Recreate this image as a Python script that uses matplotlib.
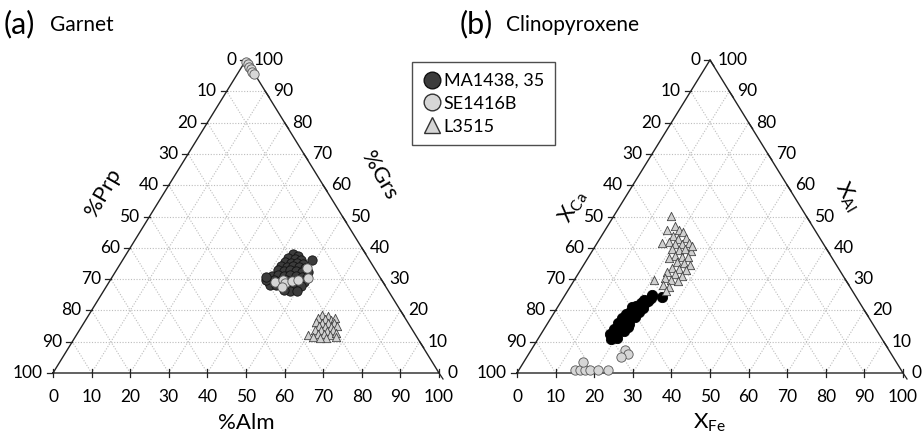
import matplotlib
matplotlib.use("Agg")
import matplotlib.pyplot as plt
from matplotlib.lines import Line2D
import numpy as np

plt.rcParams["font.family"] = ["Lato", "DejaVu Sans"]
plt.rcParams["mathtext.default"] = "regular"

# garnet compositions (%), Prp = 100 - Alm - Grs
grt_ma_alm = [43.2, 44.8, 42.5, 44.5, 46.1, 49.0, 42.3, 44.1, 45.6, 47.4, 42.0, 43.6, 45.1, 46.7,
              48.5, 41.8, 43.5, 44.9, 46.7, 48.3, 49.9, 41.2, 42.6, 44.3, 45.7, 47.5, 49.1, 50.6,
              41.0, 42.4, 44.1, 45.5, 47.2, 48.9, 50.4, 42.1, 43.7, 45.7, 47.2, 48.9, 50.3, 48.3,
              50.1, 46.5, 40.2, 39.8]
grt_ma_grs = [38.0, 37.4, 36.7, 36.4, 36.1, 36.1, 35.5, 35.1, 35.1, 34.8, 34.2, 33.9, 34.2, 33.9,
              33.5, 32.9, 32.6, 32.9, 32.6, 32.3, 32.3, 31.0, 31.3, 31.0, 31.3, 31.0, 30.7, 30.4,
              29.4, 29.7, 29.4, 29.7, 29.4, 29.1, 29.1, 28.1, 28.1, 27.8, 27.8, 27.5, 27.8, 26.2,
              26.2, 26.5, 29.8, 30.6]
grt_se_alm = [42.9, 44.7, 45.7, 47.2, 48.6, 49.0, 50.9, 45.5, 0.3, 1.0, 1.8, 2.6, 3.5, 4.4]
grt_se_grs = [29.1, 29.7, 28.8, 29.4, 29.7, 33.5, 30.4, 27.5, 99.4, 98.8, 97.9, 97.2, 96.3, 95.4]
grt_l_alm = [60.4, 62.1, 59.9, 61.8, 63.6, 64.3, 60.0, 61.7, 63.2, 64.8, 61.4, 63.1, 64.7, 66.1,
             61.0, 62.6, 64.3, 65.7, 62.4, 64.0, 65.7, 66.9, 60.0, 61.6, 65.1, 67.6, 63.6]
grt_l_grs = [18.5, 18.2, 17.6, 17.3, 16.9, 17.6, 16.3, 16.0, 16.0, 16.0, 15.0, 14.7, 14.7, 15.0,
             13.7, 13.7, 13.4, 13.7, 12.5, 12.5, 12.1, 12.8, 12.1, 11.5, 11.2, 11.5, 11.2]

# clinopyroxene compositions (%), XCa = 100 - XFe - XAl
cpx_ma_fe = [18.8, 19.1, 19.4, 18.7, 19.7, 18.8, 20.0, 19.0, 20.1, 19.2, 20.4, 19.5, 20.5, 19.6,
             20.8, 20.0, 21.1, 20.2, 21.4, 20.8, 22.0, 21.3, 22.5, 22.8, 25.4, 20.4, 20.9, 21.2,
             17.8, 18.0, 18.2, 18.5, 18.8, 19.2, 21.6, 21.9, 22.3, 21.5, 22.6]
cpx_ma_al = [10.9, 11.8, 12.8, 13.7, 13.7, 15.0, 14.7, 16.3, 16.0, 17.3, 16.9, 18.2, 18.2, 19.5,
             19.2, 20.4, 20.1, 21.4, 21.1, 22.4, 22.0, 23.3, 23.0, 24.0, 24.3, 11.2, 13.4, 15.7,
             12.4, 14.2, 15.9, 17.6, 19.0, 21.2, 17.8, 19.4, 20.8, 14.6, 24.8]
cpx_se_fe = [14.4, 15.7, 17.0, 18.3, 20.4, 23.0, 15.3, 24.2, 25.6, 24.5]
cpx_se_al = [1.0, 1.0, 1.0, 1.0, 1.0, 1.0, 3.5, 7.3, 6.1, 5.1]
cpx_l_fe = [14.8, 17.5, 16.1, 19.2, 20.5, 18.6, 20.4, 22.3, 18.5, 20.4, 22.2, 23.9, 16.9, 20.4,
            22.4, 23.8, 25.6, 25.1, 22.3, 24.2, 25.8, 21.0, 23.8, 25.7, 27.6, 23.4, 25.4, 27.4,
            22.8, 25.2, 27.3, 23.2, 25.0, 27.1, 20.7, 23.9, 25.7, 25.6]
cpx_l_al = [50.2, 47.0, 45.7, 45.7, 45.0, 43.8, 42.8, 43.1, 41.9, 41.2, 41.2, 41.5, 41.5, 39.6,
            39.3, 39.6, 39.0, 40.6, 37.4, 37.1, 37.1, 36.7, 35.5, 35.1, 34.5, 33.5, 33.2, 32.9,
            32.3, 31.6, 31.0, 30.4, 29.7, 29.4, 29.7, 28.1, 27.5, 26.2]

tick_vals = list(range(0, 101, 10))
legend_labels = ["MA1438, 35", "SE1416B", "L3515"]


def to_xy(bottom, top):
    b = np.asarray(bottom) / 100.0
    t = np.asarray(top) / 100.0
    return b + t / 2.0, t


def draw_frame(ax, left_label, right_label, bottom_label, lpos, rpos, bpos):
    ax.set_xlim(0, 1)
    ax.set_ylim(0, 1)
    ax.axis("off")
    grid_kw = dict(color="#bdbdbd", ls=(0, (1, 1.5)), lw=0.8, zorder=1)
    for v in tick_vals[1:-1]:
        f = v / 100.0
        ax.plot([f / 2, 1 - f / 2], [f, f], **grid_kw)
        ax.plot([f, f / 2 + 0.5], [0, 1 - f], **grid_kw)
        ax.plot([f, f / 2], [0, f], **grid_kw)
    ax.plot([0, 1, 0.5, 0], [0, 0, 1, 0], color="#222222", lw=1.0, zorder=2, clip_on=False)

    px = 1.0 / 386
    py = 1.0 / 313
    for v in tick_vals:
        f = v / 100.0
        # bottom
        ax.plot([f, f], [-4 * py, 4 * py], color="#222222", lw=0.9, clip_on=False, zorder=2)
        ax.text(f, -24 * py, str(v), ha="center", va="center", fontsize=12.5)
        # left (0 at top, 100 at bottom-left)
        h = 1 - f
        x = h / 2
        ax.plot([x - 6 * px, x], [h, h], color="#222222", lw=0.9, clip_on=False, zorder=2)
        ax.text(x - 10 * px, h, str(v), ha="right", va="center", fontsize=12.5)
        # right (100 at top, 0 at bottom-right)
        h = f
        x = 1 - h / 2
        ax.plot([x, x + 4 * px], [h, h - 6 * py], color="#222222", lw=0.9, clip_on=False, zorder=2)
        ax.text(x + 8 * px, h, str(v), ha="left", va="center", fontsize=12.5)

    ax.text(bpos[0], bpos[1], bottom_label, transform=ax.transAxes, ha="center", va="center", fontsize=16)
    ax.text(lpos[0], lpos[1], left_label, transform=ax.transAxes, ha="center", va="center",
            fontsize=16, rotation=60)
    ax.text(rpos[0], rpos[1], right_label, transform=ax.transAxes, ha="center", va="center",
            fontsize=16, rotation=-60)


fig = plt.figure(figsize=(9.22, 4.36), dpi=100)
ax1 = fig.add_axes([53 / 922, 63 / 436, 386 / 922, 313 / 436])
ax2 = fig.add_axes([517 / 922, 63 / 436, 386 / 922, 313 / 436])

draw_frame(ax1, "%Prp", "%Grs", "%Alm", (0.13, 0.575), (0.845, 0.63), (0.5, -0.16))
draw_frame(ax2, r"X$_{Ca}$", r"X$_{Al}$", r"X$_{Fe}$", (0.145, 0.53), (0.855, 0.565), (0.5, -0.16))

ms = 45
tri_ms = 36
x, y = to_xy(grt_ma_alm, grt_ma_grs)
ax1.scatter(x, y, s=ms, c="#3c3c3c", edgecolors="#111111", linewidths=0.6, zorder=3, clip_on=False)
x, y = to_xy(grt_se_alm, grt_se_grs)
ax1.scatter(x, y, s=ms, c="#d6d6d6", edgecolors="#555555", linewidths=0.6, zorder=4, clip_on=False)
x, y = to_xy(grt_l_alm, grt_l_grs)
ax1.scatter(x, y, s=tri_ms, marker="^", c="#d0d0d0", edgecolors="#444444", linewidths=0.6, zorder=3,
            clip_on=False)

x, y = to_xy(cpx_ma_fe, cpx_ma_al)
ax2.scatter(x, y, s=55, c="#000000", edgecolors="#000000", linewidths=0.6, zorder=3, clip_on=False)
x, y = to_xy(cpx_se_fe, cpx_se_al)
ax2.scatter(x, y, s=ms, c="#d6d6d6", edgecolors="#555555", linewidths=0.6, zorder=4, clip_on=False)
x, y = to_xy(cpx_l_fe, cpx_l_al)
ax2.scatter(x, y, s=tri_ms, marker="^", c="#d0d0d0", edgecolors="#444444", linewidths=0.6, zorder=3,
            clip_on=False)

fig.text(4 / 922, 1 - 24 / 436, "(a)", fontsize=22, va="center", ha="left")
fig.text(50 / 922, 1 - 25 / 436, "Garnet", fontsize=15, va="center", ha="left")
fig.text(460 / 922, 1 - 24 / 436, "(b)", fontsize=22, va="center", ha="left")
fig.text(506 / 922, 1 - 25 / 436, "Clinopyroxene", fontsize=15, va="center", ha="left")

handles = [
    Line2D([], [], marker="o", ls="", ms=12, mfc="#3c3c3c", mec="#111111"),
    Line2D([], [], marker="o", ls="", ms=12, mfc="#d6d6d6", mec="#333333"),
    Line2D([], [], marker="^", ls="", ms=12, mfc="#d6d6d6", mec="#333333"),
]
leg = fig.legend(handles, legend_labels, loc="upper left", bbox_to_anchor=(412 / 922, 1 - 62 / 436),
                 borderaxespad=0, frameon=True, fancybox=False, edgecolor="#222222", fontsize=13,
                 handletextpad=0.15, borderpad=0.6, labelspacing=0.38, handlelength=1.0)
leg.get_frame().set_linewidth(1.0)

fig.savefig("out.png", dpi=100)
